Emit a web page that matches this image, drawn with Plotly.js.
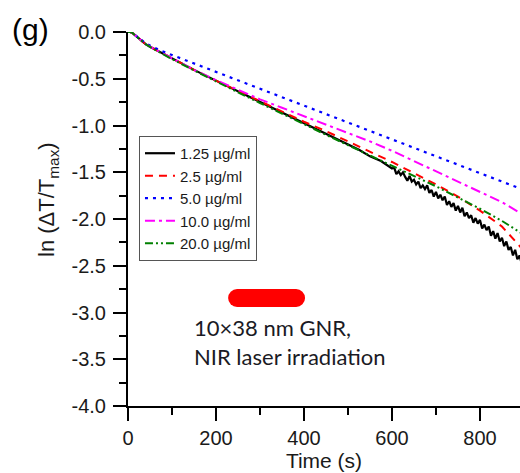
<!DOCTYPE html>
<html>
<head>
<meta charset="utf-8">
<script src="https://cdn.plot.ly/plotly-3.0.1.min.js"></script>
<style>html,body{margin:0;padding:0;background:#fff;}#chart{width:520px;height:473px;}</style>
</head>
<body>
<div id="chart"></div>
<script>
// Time samples (s)
const tCommon = [0, 5, 10, 15, 20, 30, 40, 50, 75, 100, 150, 200, 250, 300, 350, 400, 450, 500, 550, 600, 650, 700, 750, 800, 850, 900];

// Black: 1.25 ug/ml (noisy at the end, read densely)
const tBlack = [0, 5, 10, 15, 20, 30, 40, 50, 75, 100, 150, 200, 250, 300, 350, 400, 450, 500, 525, 550, 575, 600,
  605, 610, 615, 620, 625, 630, 635, 640, 645, 650, 655, 660, 665, 670, 675, 680, 685, 690, 695, 700,
  705, 710, 715, 720, 725, 730, 735, 740, 745, 750, 755, 760, 765, 770, 775, 780, 785, 790, 795, 800,
  805, 810, 815, 820, 825, 830, 835, 840, 845, 850, 855, 860, 865, 870, 875, 880, 885, 890, 895, 900];
const vBlack = [0, 0, -0.01, -0.03, -0.06, -0.10, -0.13, -0.157, -0.22, -0.285, -0.405, -0.52, -0.635, -0.745, -0.86, -0.975, -1.09, -1.21, -1.26, -1.33, -1.38, -1.46,
  -1.45, -1.52, -1.49, -1.53, -1.50, -1.55, -1.59, -1.54, -1.60, -1.58, -1.63, -1.60, -1.67, -1.64, -1.68, -1.64, -1.72, -1.69, -1.76, -1.71,
  -1.78, -1.74, -1.80, -1.76, -1.85, -1.81, -1.87, -1.83, -1.91, -1.86, -1.93, -1.88, -1.97, -1.93, -1.99, -1.96, -2.04, -1.99, -2.05, -2.01,
  -2.10, -2.06, -2.12, -2.08, -2.18, -2.13, -2.21, -2.15, -2.24, -2.20, -2.29, -2.24, -2.33, -2.30, -2.39, -2.33, -2.43, -2.39, -2.48, -2.46];

const vRed = [0, 0, -0.01, -0.03, -0.06, -0.10, -0.13, -0.157, -0.22, -0.285, -0.405, -0.52, -0.632, -0.74, -0.85, -0.96, -1.06, -1.17, -1.28, -1.39, -1.51, -1.63, -1.76, -1.91, -2.08, -2.34];
const vBlue = [0, 0, -0.01, -0.03, -0.05, -0.09, -0.12, -0.145, -0.20, -0.246, -0.336, -0.426, -0.52, -0.61, -0.70, -0.79, -0.88, -0.97, -1.06, -1.15, -1.24, -1.33, -1.42, -1.51, -1.60, -1.69];
const vMagenta = [0, 0, -0.01, -0.03, -0.06, -0.10, -0.13, -0.157, -0.22, -0.285, -0.405, -0.515, -0.62, -0.72, -0.81, -0.90, -0.99, -1.08, -1.17, -1.27, -1.38, -1.49, -1.60, -1.71, -1.82, -1.96];
const vGreen = [0, 0, -0.01, -0.03, -0.06, -0.10, -0.13, -0.16, -0.225, -0.29, -0.41, -0.53, -0.645, -0.76, -0.87, -0.985, -1.10, -1.21, -1.32, -1.43, -1.54, -1.65, -1.77, -1.89, -2.02, -2.17];

const seriesNames = ["1.25 \u00b5g/ml", "2.5 \u00b5g/ml", "5.0 \u00b5g/ml", "10.0 \u00b5g/ml", "20.0 \u00b5g/ml"];

const xTickVals = [0, 200, 400, 600, 800];
const xTickText = ["0", "200", "400", "600", "800"];
const yTickVals = [0, -0.5, -1.0, -1.5, -2.0, -2.5, -3.0, -3.5, -4.0];
const yTickText = ["0.0", "-0.5", "-1.0", "-1.5", "-2.0", "-2.5", "-3.0", "-3.5", "-4.0"];

// Laser irradiation marker (pill) extent, in data units
const pillX = [248, 382];
const pillY = -2.845;

const traces = [
  {x: tBlack, y: vBlack, name: seriesNames[0], mode: "lines", line: {color: "#000000", width: 2.2, dash: "solid"}},
  {x: tCommon, y: vRed, name: seriesNames[1], mode: "lines", line: {color: "#ff0000", width: 2, dash: "8px,6px"}},
  {x: tCommon, y: vBlue, name: seriesNames[2], mode: "lines", line: {color: "#0000ff", width: 2.2, dash: "3px,5px"}},
  {x: tCommon, y: vMagenta, name: seriesNames[3], mode: "lines", line: {color: "#ff00ff", width: 2, dash: "10px,4px,3px,4px"}},
  {x: tCommon, y: vGreen, name: seriesNames[4], mode: "lines", line: {color: "#008000", width: 2, dash: "8px,3px,2px,3px,2px,3px"}}
];

const tickFont = {family: "Arial, Liberation Sans, sans-serif", size: 20, color: "#1a1a1a"};
const titleFont = {family: "Arial, Liberation Sans, sans-serif", size: 21, color: "#1a1a1a"};

const layout = {
  width: 520, height: 473,
  margin: {l: 128, r: 0, t: 32, b: 67},
  paper_bgcolor: "#ffffff", plot_bgcolor: "#ffffff",
  showlegend: true,
  legend: {
    x: 0.028, y: 0.722, xanchor: "left", yanchor: "top",
    bgcolor: "#ffffff", bordercolor: "#555555", borderwidth: 1,
    font: {family: "Arial, Liberation Sans, sans-serif", size: 15, color: "#1a1a1a"},
    tracegroupgap: 0, itemwidth: 30
  },
  xaxis: {
    range: [0, 891], showgrid: false, zeroline: false,
    showline: true, linecolor: "#000", linewidth: 2,
    ticks: "outside", ticklen: 13, tickwidth: 2, tickcolor: "#000",
    tickvals: xTickVals, ticktext: xTickText, tickfont: tickFont,
    minor: {dtick: 100, tick0: 0, ticks: "outside", ticklen: 7, tickwidth: 2, tickcolor: "#000", showgrid: false},
    title: {text: "Time (s)", font: titleFont, standoff: 2}
  },
  yaxis: {
    range: [-4.0, 0.0], showgrid: false, zeroline: false,
    showline: true, linecolor: "#000", linewidth: 2,
    ticks: "outside", ticklen: 13, tickwidth: 2, tickcolor: "#000",
    tickvals: yTickVals, ticktext: yTickText, tickfont: tickFont,
    ticklabelstandoff: 3,
    minor: {dtick: 0.25, tick0: 0, ticks: "outside", ticklen: 7, tickwidth: 2, tickcolor: "#000", showgrid: false}
  },
  shapes: [
    {type: "rect", xref: "x", yref: "y", x0: pillX[0], x1: pillX[1],
     ysizemode: "pixel", yanchor: pillY, y0: -9, y1: 9, fillcolor: "#ff0000", line: {width: 0}},
    {type: "circle", xref: "x", yref: "y", xsizemode: "pixel", ysizemode: "pixel",
     xanchor: pillX[0], yanchor: pillY, x0: -9, x1: 9, y0: -9, y1: 9, fillcolor: "#ff0000", line: {width: 0}},
    {type: "circle", xref: "x", yref: "y", xsizemode: "pixel", ysizemode: "pixel",
     xanchor: pillX[1], yanchor: pillY, x0: -9, x1: 9, y0: -9, y1: 9, fillcolor: "#ff0000", line: {width: 0}}
  ],
  annotations: [
    {text: "ln (\u0394T/T<sub>max</sub>)", xref: "paper", yref: "paper", x: -0.204, y: 0.551,
     xanchor: "center", yanchor: "middle", textangle: -90, showarrow: false, font: {family: "Arial, Liberation Sans, sans-serif", size: 22, color: "#1a1a1a"}},
    {text: "(g)", xref: "paper", yref: "paper", x: -0.30, y: 1.008, xanchor: "left", yanchor: "middle",
     showarrow: false, font: {family: "Arial, Liberation Sans, sans-serif", size: 30, color: "#000"}},
    {text: "10\u00d738 nm GNR,<br>NIR laser irradiation", xref: "x", yref: "y", x: 145, y: -3.32,
     xanchor: "left", yanchor: "middle", align: "left", showarrow: false,
     font: {family: "Lato, Open Sans, sans-serif", size: 22, color: "#1a1a24"}}
  ]
};

Plotly.newPlot("chart", traces, layout, {displayModeBar: false, staticPlot: true});
</script>
</body>
</html>
